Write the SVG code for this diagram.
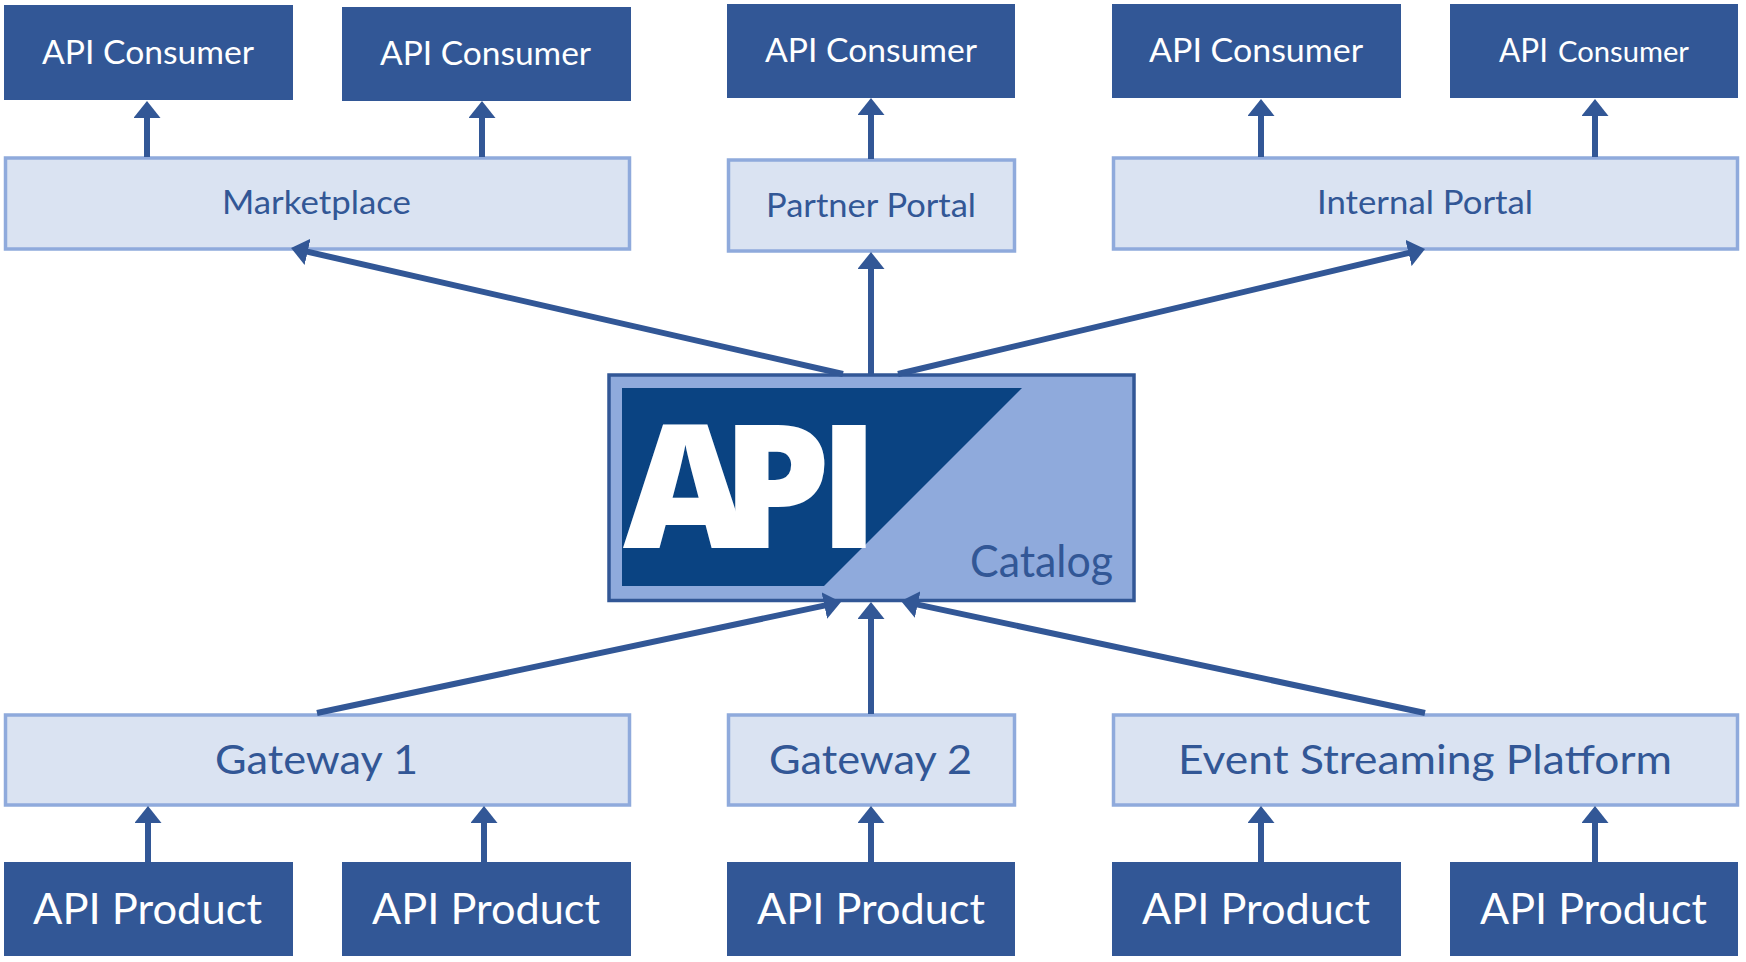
<svg xmlns="http://www.w3.org/2000/svg" width="1746" height="962" viewBox="0 0 1746 962">
<defs>
<style>
text{font-family:Lato,"Open Sans",sans-serif}
.dark{fill:#325796}
.light{fill:#dae3f2;stroke:#8faadc;stroke-width:3.5}
.tw{fill:#fff}
.tb{fill:#325796}
.cons{font-size:33px}
.prod{font-size:42px}
.portal{font-size:32px}
.gate{font-size:40px}
.cn line{stroke:#325796;stroke-width:6;fill:none;marker-end:url(#ah)}
</style>
<marker id="ah" markerUnits="userSpaceOnUse" viewBox="0 0 17 27" markerWidth="17" markerHeight="27" refX="7" refY="13.5" orient="auto"><path d="M0 0L17 13.5L0 27Z" fill="#325796"/></marker>
</defs>
<rect width="1746" height="962" fill="#fff"/>
<g id="consumer-1"><rect class="dark" x="4" y="5" width="289" height="95"/><text class="tw cons" x="42" y="64" textLength="212" lengthAdjust="spacingAndGlyphs">API Consumer</text></g>
<g id="consumer-2"><rect class="dark" x="342" y="7" width="289" height="94"/><text class="tw cons" x="380" y="65" textLength="211" lengthAdjust="spacingAndGlyphs">API Consumer</text></g>
<g id="consumer-3"><rect class="dark" x="727" y="4" width="288" height="94"/><text class="tw cons" x="765" y="62" textLength="212" lengthAdjust="spacingAndGlyphs">API Consumer</text></g>
<g id="consumer-4"><rect class="dark" x="1112" y="4" width="289" height="94"/><text class="tw cons" x="1149" y="62" textLength="214" lengthAdjust="spacingAndGlyphs">API Consumer</text></g>
<g id="consumer-5"><rect class="dark" x="1450" y="4" width="288" height="94"/><text class="tw cons" x="1499" y="62" textLength="49" lengthAdjust="spacingAndGlyphs">API</text><text class="tw" style="font-size:28px" x="1558" y="62" textLength="131" lengthAdjust="spacingAndGlyphs">Consumer</text></g>
<g id="marketplace"><rect class="light" x="5.5" y="158" width="624" height="91"/><text class="tb portal" x="222" y="214" textLength="189" lengthAdjust="spacingAndGlyphs">Marketplace</text></g>
<g id="partner-portal"><rect class="light" x="728.5" y="160" width="286" height="91"/><text class="tb portal" x="766" y="217" textLength="210" lengthAdjust="spacingAndGlyphs">Partner Portal</text></g>
<g id="internal-portal"><rect class="light" x="1113.5" y="158" width="624" height="91"/><text class="tb portal" x="1317" y="214" textLength="216" lengthAdjust="spacingAndGlyphs">Internal Portal</text></g>
<g id="catalog">
<rect x="609" y="375" width="525" height="225.500" fill="#8faadc" stroke="#325796" stroke-width="3.500"/>
<path d="M622 388H1022L824 586H622Z" fill="#0a4382"/>
<text class="tw" x="623 722 819" y="548" style="font-family:'Open Sans',sans-serif;font-size:172px;font-weight:800">API</text>
<text class="tb" x="970" y="577" style="font-size:44px" textLength="143" lengthAdjust="spacingAndGlyphs">Catalog</text>
</g>
<g id="gateway-1"><rect class="light" x="5.5" y="715" width="624" height="90"/><text class="tb gate" x="215" y="774" textLength="203" lengthAdjust="spacingAndGlyphs">Gateway 1</text></g>
<g id="gateway-2"><rect class="light" x="728.500" y="715" width="286" height="90"/><text class="tb gate" x="769" y="774" textLength="203" lengthAdjust="spacingAndGlyphs">Gateway 2</text></g>
<g id="event-platform"><rect class="light" x="1113.5" y="715" width="624" height="90"/><text class="tb gate" x="1178" y="774" textLength="494" lengthAdjust="spacingAndGlyphs">Event Streaming Platform</text></g>
<g id="product-1"><rect class="dark" x="4" y="862" width="289" height="94"/><text class="tw prod" x="33" y="924" textLength="229" lengthAdjust="spacingAndGlyphs">API Product</text></g>
<g id="product-2"><rect class="dark" x="342" y="862" width="289" height="94"/><text class="tw prod" x="372" y="924" textLength="228" lengthAdjust="spacingAndGlyphs">API Product</text></g>
<g id="product-3"><rect class="dark" x="727" y="862" width="288" height="94"/><text class="tw prod" x="757" y="924" textLength="228" lengthAdjust="spacingAndGlyphs">API Product</text></g>
<g id="product-4"><rect class="dark" x="1112" y="862" width="289" height="94"/><text class="tw prod" x="1142" y="924" textLength="228" lengthAdjust="spacingAndGlyphs">API Product</text></g>
<g id="product-5"><rect class="dark" x="1450" y="862" width="288" height="94"/><text class="tw prod" x="1480" y="924" textLength="227" lengthAdjust="spacingAndGlyphs">API Product</text></g>
<g id="connectors" class="cn">
<line x1="147" y1="157" x2="147" y2="111"/>
<line x1="482" y1="157" x2="482" y2="111"/>
<line x1="871" y1="159" x2="871" y2="108"/>
<line x1="1261" y1="157" x2="1261" y2="109"/>
<line x1="1595" y1="157" x2="1595" y2="109"/>
<line x1="843" y1="374" x2="300.8" y2="250.2"/>
<line x1="871" y1="374" x2="871" y2="262"/>
<line x1="898" y1="374" x2="1415.3" y2="251.3"/>
<line x1="317" y1="713" x2="831.2" y2="604.1"/>
<line x1="871" y1="714" x2="871" y2="612"/>
<line x1="1425" y1="713" x2="910.8" y2="603.1"/>
<line x1="148" y1="862" x2="148" y2="816"/>
<line x1="484" y1="862" x2="484" y2="816"/>
<line x1="871" y1="862" x2="871" y2="816"/>
<line x1="1261" y1="862" x2="1261" y2="816"/>
<line x1="1595" y1="862" x2="1595" y2="816"/>
</g>
</svg>
